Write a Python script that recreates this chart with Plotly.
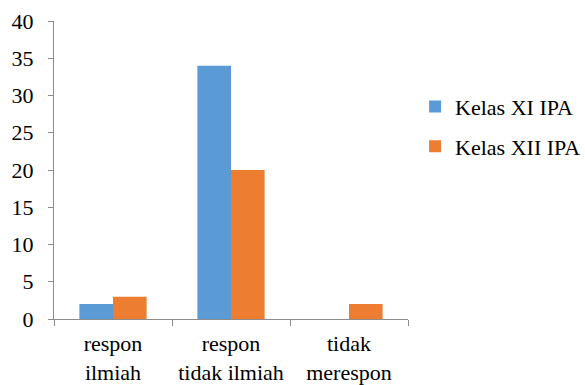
import plotly.graph_objects as go

categories = ["respon<br>ilmiah", "respon<br>tidak ilmiah", "tidak<br>merespon"]
kelas_xi = [2, 34, 0]
kelas_xii = [3, 20, 2]
y_ticks = [0, 5, 10, 15, 20, 25, 30, 35, 40]

font_family = "Times New Roman, Liberation Serif, DejaVu Serif, serif"
axis_color = "#8c8c8c"

fig = go.Figure()
fig.add_trace(go.Bar(name="Kelas XI IPA", x=categories, y=kelas_xi, legendgroup="xi",
                     marker=dict(color="#5b9bd5", line=dict(width=0))))
fig.add_trace(go.Bar(name="Kelas XII IPA", x=categories, y=kelas_xii, legendgroup="xii",
                     marker=dict(color="#ed7d31", line=dict(width=0))))

fig.update_layout(
    width=585, height=385,
    margin=dict(l=54, r=177, t=21, b=66, autoexpand=False),
    paper_bgcolor="white", plot_bgcolor="white",
    barmode="group", bargap=0.43, bargroupgap=0,
    font=dict(family=font_family, size=22, color="black"),
    showlegend=True,
    legend=dict(x=1.02, y=0.645, xanchor="left", yanchor="middle",
                font=dict(family=font_family, size=22),
                traceorder="grouped", tracegroupgap=8, itemwidth=30,
                bgcolor="rgba(0,0,0,0)"),
)
fig.update_xaxes(
    showline=True, linecolor=axis_color, linewidth=1,
    ticks="outside", tickson="boundaries", ticklen=6, tickcolor=axis_color,
    tickangle=0, automargin=False, ticklabelstandoff=5,
    showgrid=False, zeroline=False,
)
fig.update_yaxes(
    range=[0, 40], tickvals=y_ticks,
    showline=True, linecolor=axis_color, linewidth=1,
    ticks="outside", ticklen=5, tickcolor=axis_color, ticklabelstandoff=10,
    automargin=False,
    showgrid=False, zeroline=False,
)

fig.write_html("out.html")
